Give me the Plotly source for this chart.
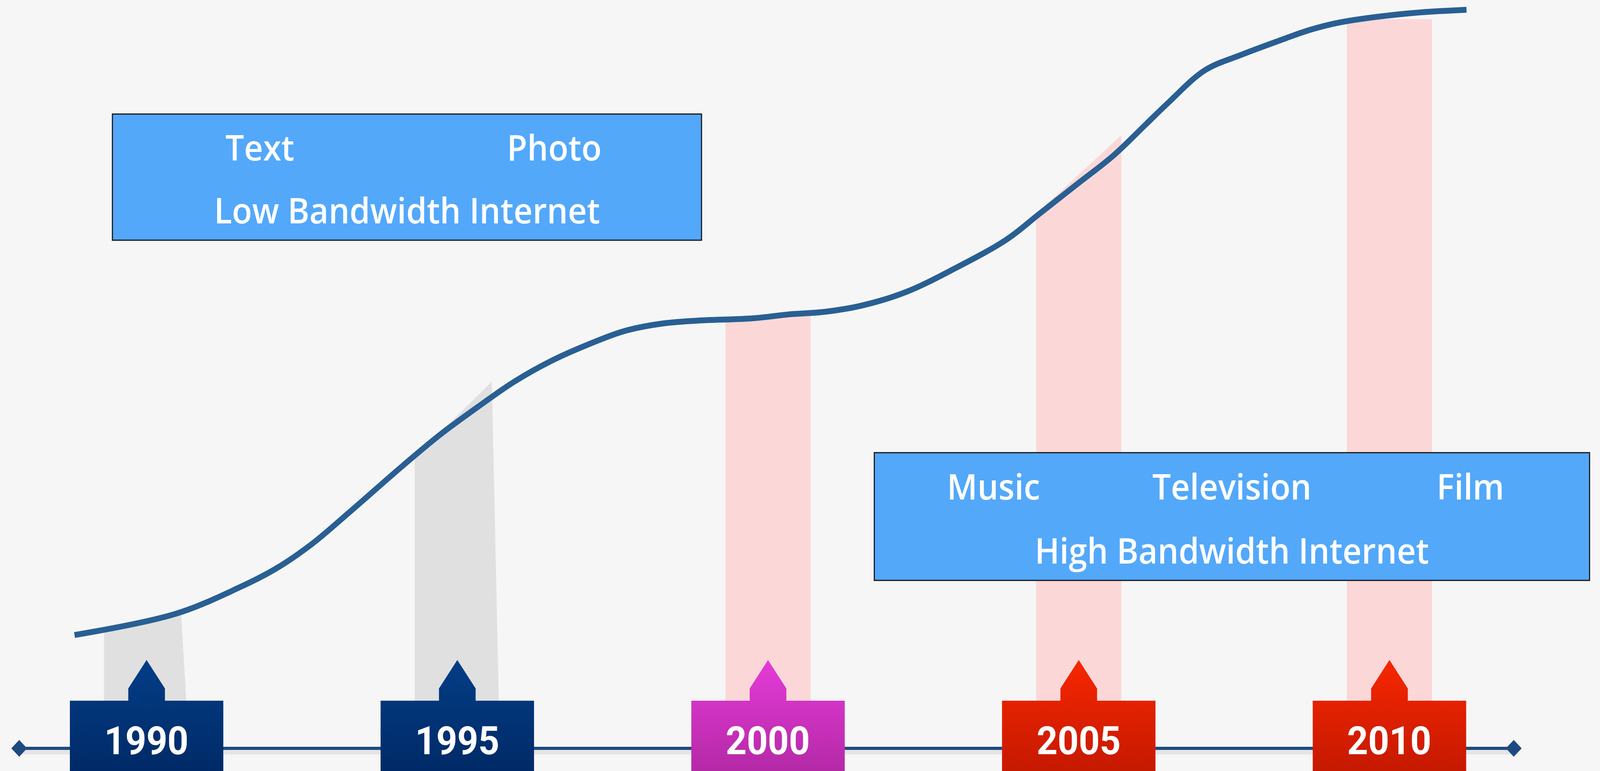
import plotly.graph_objects as go

# ---------------- data ----------------
years = [1990, 1995, 2000, 2005, 2010]
year_labels = ["1990", "1995", "2000", "2005", "2010"]
year_style = ["navy", "navy", "magenta", "red", "red"]

# background bars (bandwidth level at each milestone): left / right top values
bar_top_left = [15.55, 38.83, 57.72, 71.40, 97.44]
bar_top_right = [17.95, 49.01, 57.72, 81.94, 97.44]
bar_style = ["gray", "gray", "pink", "pink", "pink"]

# bandwidth growth curve
curve_x = [1988.84, 1990.48, 1991.48, 1992.07, 1992.66, 1993.25, 1994.14, 1994.73,
           1995.32, 1995.91, 1996.50, 1997.09, 1997.68, 1998.27, 1998.86, 1999.75,
           2000.34, 2000.93, 2001.52, 2002.23, 2003.00, 2003.84, 2004.37, 2004.97,
           2005.56, 2006.07, 2006.44, 2007.03, 2007.62, 2008.21, 2008.73, 2009.18,
           2010.26, 2011.24]
curve_y = [15.14, 18.01, 21.45, 23.96, 27.30, 31.45, 37.89, 41.96,
           45.56, 48.96, 51.72, 53.91, 55.74, 56.73, 57.15, 57.46,
           57.99, 58.35, 59.19, 61.01, 64.10, 68.00, 71.45, 75.37,
           79.23, 83.30, 86.27, 90.61, 92.69, 94.52, 96.03, 96.97,
           98.17, 98.69]

timeline_span = [1987.95, 2012.0]

era_titles = ["Low Bandwidth Internet", "High Bandwidth Internet"]
era_media = [["Text", "Photo"], ["Music", "Television", "Film"]]
era_box_x = [[1989.45, 1998.93], [2001.71, 2013.22]]
era_box_y = [[67.90, 84.76], [22.44, 39.51]]

# ---------------- layout constants ----------------
W, H = 4359, 1974
X_RANGE = [1987.641, 2013.388]
Y_RANGE = [-3.03, 100.0]
BG = "#f6f6f6"

BAR_HALF = 0.685
GRAY_INSET = 0.13
BOX_HALF = 1.2345
STEM_HALF = 0.295
BOX_TOP = 6.37
STEM_TOP = 7.99
TIP = 11.80

TEXT_FONT = dict(family="Open Sans", size=90, color="white", weight=600)

bar_colors = {"gray": "#e0e0e0", "pink": "#fbd8d7"}
box_grad = {
    "navy": ["#002a67", "#033d86"],
    "magenta": ["#b429a6", "#e53bd8"],
    "red": ["#c51900", "#f72700"],
}

fig = go.Figure()

# background bars
for yr, tl, tr, st in zip(years, bar_top_left, bar_top_right, bar_style):
    inset = GRAY_INSET if st == "gray" else 0.0
    xs = [yr - BAR_HALF, yr - BAR_HALF, yr + BAR_HALF - inset, yr + BAR_HALF, yr - BAR_HALF]
    ys = [0, tl, tr, 0, 0]
    fig.add_trace(go.Scatter(x=xs, y=ys, mode="lines", fill="toself",
                             fillcolor=bar_colors[st], line=dict(width=0),
                             hoverinfo="skip", showlegend=False))

# timeline shadow + line
fig.add_trace(go.Scatter(x=timeline_span, y=[-0.45, -0.45], mode="lines",
                         line=dict(color="rgba(0,0,0,0.07)", width=14),
                         hoverinfo="skip", showlegend=False))
fig.add_trace(go.Scatter(x=timeline_span, y=[0, 0], mode="lines+markers",
                         line=dict(color="#1d4a80", width=8),
                         marker=dict(symbol="diamond", size=33, color="#1d4a80"),
                         hoverinfo="skip", showlegend=False))

# year markers (box + pointer)
for yr, st in zip(years, year_style):
    xs = [yr - BOX_HALF, yr - BOX_HALF, yr - STEM_HALF, yr - STEM_HALF, yr,
          yr + STEM_HALF, yr + STEM_HALF, yr + BOX_HALF, yr + BOX_HALF, yr - BOX_HALF]
    ys = [Y_RANGE[0], BOX_TOP, BOX_TOP, STEM_TOP, TIP, STEM_TOP, BOX_TOP, BOX_TOP,
          Y_RANGE[0], Y_RANGE[0]]
    c0, c1 = box_grad[st]
    fig.add_trace(go.Scatter(x=xs, y=ys, mode="lines", fill="toself",
                             fillcolor=c0,
                             fillgradient=dict(type="vertical",
                                               colorscale=[[0, c0], [1, c1]]),
                             line=dict(width=0), hoverinfo="skip", showlegend=False))

# growth curve
fig.add_trace(go.Scatter(x=curve_x, y=curve_y, mode="lines",
                         line=dict(color="#295f93", width=15, shape="spline", smoothing=1.0),
                         hoverinfo="skip", showlegend=False))

annotations = []
for yr, lab in zip(years, year_labels):
    annotations.append(dict(x=yr, y=1.0, xref="x", yref="y", text=lab, showarrow=False,
                            xanchor="center", yanchor="middle",
                            font=dict(family="Roboto", size=100, color="white", weight="bold")))

shapes = []
for (x0, x1), (y0, y1), title, media in zip(era_box_x, era_box_y, era_titles, era_media):
    shapes.append(dict(type="rect", xref="x", yref="y", x0=x0, x1=x1, y0=y0, y1=y1,
                       fillcolor="#53a8fa", line=dict(color="#141414", width=3),
                       layer="above"))
    n = len(media)
    h = y1 - y0
    for i, m in enumerate(media):
        annotations.append(dict(x=x0 + (x1 - x0) * (2 * i + 1) / (2 * n), y=y1 - 0.26 * h,
                                xref="x", yref="y", text=m, showarrow=False,
                                xanchor="center", yanchor="middle", font=TEXT_FONT))
    annotations.append(dict(x=(x0 + x1) / 2, y=y1 - 0.76 * h, xref="x", yref="y",
                            text=title, showarrow=False, xanchor="center", yanchor="middle",
                            font=TEXT_FONT))

fig.update_layout(
    width=W, height=H,
    margin=dict(l=0, r=0, t=0, b=0),
    paper_bgcolor=BG, plot_bgcolor=BG,
    xaxis=dict(range=X_RANGE, visible=False, fixedrange=True),
    yaxis=dict(range=Y_RANGE, visible=False, fixedrange=True),
    shapes=shapes, annotations=annotations,
    showlegend=False,
)

# fit the fixed-size figure exactly into the browser viewport
fit_js = (
    "document.documentElement.style.margin='0';"
    "document.body.style.margin='0';"
    "document.body.style.overflow='hidden';"
    "document.body.style.background='" + BG + "';"
    "var gd=document.getElementById('{plot_id}');"
    "var sx=window.innerWidth/" + str(W) + ", sy=window.innerHeight/" + str(H) + ";"
    "gd.style.transformOrigin='0 0';"
    "gd.style.transform='scale('+sx+','+sy+')';"
)

fig.write_html("out.html", config={"displayModeBar": False}, post_script=fit_js)
